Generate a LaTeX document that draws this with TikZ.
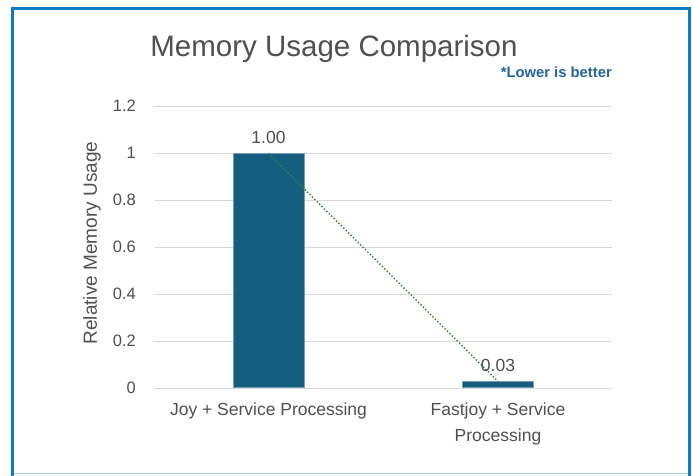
\documentclass[tikz,border=0pt]{standalone}
\usepackage{fontspec}
\setmainfont{Liberation Sans}
\definecolor{framec}{RGB}{12,124,200}
\definecolor{framelight}{RGB}{170,205,235}
\definecolor{barc}{RGB}{22,94,128}
\definecolor{gridc}{RGB}{217,217,217}
\definecolor{textc}{RGB}{80,80,80}
\definecolor{notec}{RGB}{36,100,160}
\definecolor{trendc}{RGB}{40,140,50}
\tikzset{
  barbox/.style={fill=barc, draw=barc!60!white, line width=0.6pt, inner sep=0pt, minimum width=71pt},
  ticklab/.style={anchor=east, text=textc, font=\fontsize{16.5}{16.5}\selectfont, inner sep=0pt},
  catlab/.style={anchor=north, text=textc, font=\fontsize{17.5}{26}\selectfont, align=center, inner sep=0pt},
  datalab/.style={anchor=south, text=textc, font=\fontsize{17.5}{17.5}\selectfont, inner sep=0pt},
  gridline/.style={draw=gridc, line width=0.8pt},
}
\begin{document}
\begin{tikzpicture}[x=1pt,y=-1pt]
\useasboundingbox (0,0) rectangle (692,475);
\fill[white] (0,0) rectangle (692,475);
% frame
\draw[framelight, line width=1pt] (12,473.5) -- (690,473.5);
\draw[framec, line width=3pt] (12.5,476) -- (12.5,8.5) -- (689.5,8.5) -- (689.5,476);
% grid
\foreach \v/\l in {0/0, 0.2/0.2, 0.4/0.4, 0.6/0.6, 0.8/0.8, 1/1, 1.2/1.2} {
  \draw[gridline] (154,388-235*\v) -- (612,388-235*\v);
  \node[ticklab] (t\l) at (136,388-235*\v) {\l};
}
% bars
\node[barbox, anchor=south, minimum height=234pt] (bar1) at (268.5,388) {};
\node[barbox, anchor=south, minimum height=6pt] (bar2) at (498,388) {};
% trend line
\draw[trendc, dotted, line width=1.4pt] (bar1.north) -- (bar2.north);
% data labels
\node[datalab] (d1) at (268.5,144) {1.00};
\node[datalab] (d2) at (498,372) {0.03};
% category labels
\node[catlab] (c1) at (268.5,403) {Joy + Service Processing};
\node[catlab] (c2) at (498,403) {Fastjoy + Service\\Processing};
% axis title
\node[text=textc, rotate=90, font=\fontsize{19}{19}\selectfont, inner sep=0pt] (ytitle) at (92,243) {Relative Memory Usage};
% title
\node[text=textc, font=\fontsize{29.5}{29.5}\selectfont, inner sep=0pt] (title) at (334,49) {Memory Usage Comparison};
\node[text=notec, anchor=east, font=\bfseries\fontsize{14.8}{14.8}\selectfont, inner sep=0pt] (note) at (612,72) {*Lower is better};
\end{tikzpicture}
\end{document}
